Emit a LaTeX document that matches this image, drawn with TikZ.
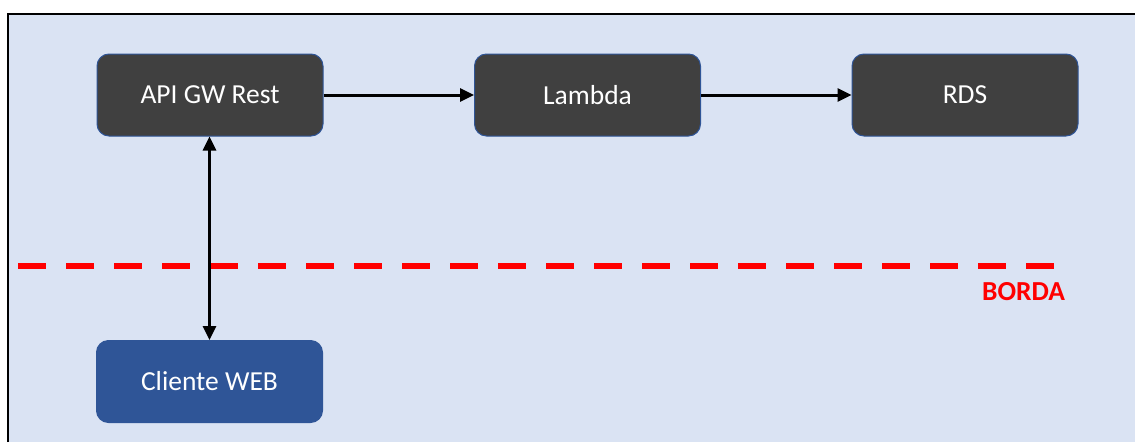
\documentclass[tikz,border=0pt]{standalone}
\usepackage{fontspec}
\setmainfont{Carlito}
\usetikzlibrary{arrows.meta}
\definecolor{panel}{HTML}{DAE3F3}
\definecolor{darkbox}{HTML}{404040}
\definecolor{boxedge}{HTML}{2F5597}
\definecolor{clientblue}{HTML}{2F5597}
\definecolor{edgered}{HTML}{FF0000}
\begin{document}
\begin{tikzpicture}[x=1pt,y=-1pt,
  service/.style={rectangle, rounded corners=12pt, minimum width=226pt, minimum height=82pt,
    fill=darkbox, draw=boxedge, line width=1pt, text=white, inner sep=0pt,
    font=\fontsize{27.5}{33}\selectfont},
  client/.style={service, fill=clientblue},
  flow/.style={line width=3pt, -{Triangle[length=14pt,width=13pt]}},
  twoway/.style={line width=3pt, {Triangle[length=14pt,width=13pt]}-{Triangle[length=14pt,width=13pt]}},
  boundary/.style={draw=edgered, line width=6.5pt, dash pattern=on 28pt off 20pt},
  boundlabel/.style={text=edgered, font=\fontsize{27.5}{33}\selectfont\bfseries, inner sep=0pt, anchor=base}]
  \useasboundingbox (0,0) rectangle (1135,442);
  % panel
  \fill[panel] (8,14) rectangle (1135,442);
  \draw[line width=2pt] (8,442) -- (8,14) -- (1135,14);
  % services
  \node[service] (api) at (210,95) {API GW Rest};
  \node[service] (lambda) at (587.5,95) {Lambda};
  \node[service] (rds) at (965,95) {RDS};
  \node[client] (web) at (209.5,381.5) {Cliente WEB};
  % boundary line
  \coordinate (bl) at (18,266);
  \coordinate (br) at (1056,266);
  \draw[boundary] (bl) -- (br);
  \node[boundlabel] (borda) at (1023.5,300) {BORDA};
  % connectors
  \draw[flow] (api.east) -- (lambda.west);
  \draw[flow] (lambda.east) -- (rds.west);
  \draw[twoway] (api.south -| web.north) -- (web.north);
\end{tikzpicture}
\end{document}
